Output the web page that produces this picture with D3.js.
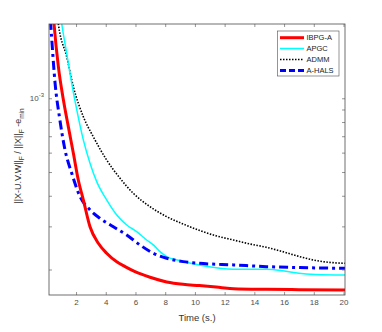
<!DOCTYPE html>
<html><head><meta charset="utf-8">
<script src="https://cdn.jsdelivr.net/npm/d3@7"></script>
<style>body{margin:0;background:#fff}svg{display:block}text{font-family:"Liberation Sans",Arial,sans-serif}</style>
</head><body><svg id="c" width="382" height="332"></svg>
<script>
const seriesNames = ["IBPG-A","APGC","ADMM","A-HALS"];
const ibpgT = [0.35,0.52,0.81,1.15,1.48,1.82,2.15,2.49,2.94,3.5,4.06,4.74,5.3,5.97,6.98,8.1,9.2,10.3,11.7,12.6,14.8,17.0,20.1];
const ibpgV = [2.8e-3,2.01e-3,1.346e-3,0.984e-3,0.766e-3,0.596e-3,0.464e-3,0.385e-3,0.299e-3,0.256e-3,0.233e-3,0.215e-3,0.2055e-3,0.196e-3,0.186e-3,0.178e-3,0.174e-3,0.172e-3,0.169e-3,0.167e-3,0.166e-3,0.1655e-3,0.165e-3];
const apgcT = [0.8,1.04,1.37,1.71,2.05,2.49,2.94,3.39,4.06,4.74,5.41,6.08,6.75,7.2,7.65,8.1,9.0,10.3,12.6,14.8,15.9,17.0,18.1,20.1];
const apgcV = [2.6e-3,2.01e-3,1.526e-3,1.151e-3,0.896e-3,0.676e-3,0.543e-3,0.457e-3,0.385e-3,0.334e-3,0.304e-3,0.2855e-3,0.264e-3,0.252e-3,0.2365e-3,0.2257e-3,0.2173e-3,0.2088e-3,0.2005e-3,0.2005e-3,0.1978e-3,0.193e-3,0.191e-3,0.190e-3];
const admmT = [0.6,0.81,1.37,1.82,2.49,3.16,4.06,4.96,5.85,6.98,8.1,9.2,10.33,11.46,12.58,13.7,14.8,15.9,17.06,18.2,19.3,20.1];
const admmV = [2.6e-3,2.01e-3,1.479e-3,1.115e-3,0.841e-3,0.697e-3,0.560e-3,0.4716e-3,0.4095e-3,0.361e-3,0.3286e-3,0.3069e-3,0.2884e-3,0.2742e-3,0.264e-3,0.2543e-3,0.2465e-3,0.2366e-3,0.2257e-3,0.2173e-3,0.2133e-3,0.212e-3];
const ahalsT = [0.25,0.30,0.37,0.59,0.88,1.26,1.71,2.27,2.94,3.61,4.51,5.41,6.3,7.2,8.1,9.2,10.3,12.6,14.8,17.06,20.1];
const ahalsV = [2.5e-3,2.01e-3,1.73e-3,1.151e-3,0.841e-3,0.615e-3,0.494e-3,0.3967e-3,0.350e-3,0.3236e-3,0.299e-3,0.2767e-3,0.252e-3,0.233e-3,0.2223e-3,0.2154e-3,0.212e-3,0.2088e-3,0.2055e-3,0.2036e-3,0.2023e-3];
const xTicks = [2,4,6,8,10,12,14,16,18,20];
const yTicks = [2e-4,3e-4,4e-4,5e-4,6e-4,7e-4,8e-4,9e-4,1e-3];

const svg = d3.select("#c");
const L=49, R=345, T=24, B=295;
const x = d3.scaleLinear().domain([0.18,20.1]).range([L,R]);
const y = d3.scaleLog().domain([1.574e-4,2.01e-3]).range([B,T]);
const axCol = "#4d4d4d";

svg.append("defs").append("clipPath").attr("id","clip").append("rect")
  .attr("x",L).attr("y",T).attr("width",R-L).attr("height",B-T);

const series = [
  {t:ibpgT, v:ibpgV, color:"#ff0000", w:3, dash:null},
  {t:apgcT, v:apgcV, color:"#00ffff", w:1.5, dash:null},
  {t:admmT, v:admmV, color:"#000000", w:1.6, dash:"1.5,1.5"},
  {t:ahalsT, v:ahalsV, color:"#0000ff", w:3, dash:"9,4,3,4"}
];
const line = d3.line().x(d=>x(d[0])).y(d=>y(d[1])).curve(d3.curveMonotoneX);
const g = svg.append("g").attr("clip-path","url(#clip)");
// draw order: ADMM, APGC, A-HALS, IBPG-A (red over)
[2,1,3,0].forEach(i=>{
  const s = series[i];
  g.append("path").datum(s.t.map((t,j)=>[t,s.v[j]]))
    .attr("d",line).attr("fill","none").attr("stroke",s.color)
    .attr("stroke-width",s.w).attr("stroke-dasharray",s.dash)
    .attr("stroke-linejoin","round");
});

function styleAxis(sel){
  sel.select(".domain").remove();
  sel.selectAll("line").attr("stroke",axCol).attr("stroke-width",0.6);
  sel.selectAll("text").attr("fill",axCol).attr("font-size","8px").attr("font-family","Liberation Sans, Arial, sans-serif");
}
svg.append("g").attr("transform",`translate(0,${B})`)
  .call(d3.axisBottom(x).tickValues(xTicks).tickSizeInner(-3).tickSizeOuter(0).tickPadding(4).tickFormat(d3.format("d")))
  .call(styleAxis);
svg.append("g").attr("transform",`translate(0,${T})`)
  .call(d3.axisTop(x).tickValues(xTicks).tickSizeInner(-3).tickSizeOuter(0).tickFormat(""))
  .call(styleAxis);
svg.append("g").attr("transform",`translate(${L},0)`)
  .call(d3.axisLeft(y).tickValues(yTicks).tickSizeInner(-3).tickSizeOuter(0).tickFormat(""))
  .call(styleAxis);
svg.append("g").attr("transform",`translate(${R},0)`)
  .call(d3.axisRight(y).tickValues(yTicks).tickSizeInner(-3).tickSizeOuter(0).tickFormat(""))
  .call(styleAxis);

svg.append("rect").attr("x",L).attr("y",T).attr("width",R-L).attr("height",B-T)
  .attr("fill","none").attr("stroke",axCol).attr("stroke-width",0.8);

// 10^-3 label
const yl = svg.append("text").attr("x",L-5).attr("y",y(1e-3)+3).attr("text-anchor","end")
  .attr("fill",axCol).attr("font-size","8px");
yl.append("tspan").text("10");
yl.append("tspan").attr("dy",-4).attr("font-size","6px").text("-3");

// x label
svg.append("text").attr("x",(L+R)/2).attr("y",321).attr("text-anchor","middle")
  .attr("fill","#333").attr("font-size","9.5px").text("Time (s.)");

// y label
const ylab = svg.append("text").attr("transform",`translate(21,156) rotate(-90)`)
  .attr("text-anchor","middle").attr("fill","#333").attr("font-size","9px");
ylab.append("tspan").text("||X-U.V.W||");
ylab.append("tspan").attr("dy",2.5).attr("font-size","6.5px").text("F");
ylab.append("tspan").attr("dy",-2.5).text(" / ||X||");
ylab.append("tspan").attr("dy",2.5).attr("font-size","6.5px").text("F");
ylab.append("tspan").attr("dy",-2.5).text(" -e");
ylab.append("tspan").attr("dy",2.5).attr("font-size","6.5px").text("min");

// legend
const lg = svg.append("g");
lg.append("rect").attr("x",277.5).attr("y",31).attr("width",61.5).attr("height",45)
  .attr("fill","#fff").attr("stroke",axCol).attr("stroke-width",0.6);
const ly = [37.7,48.5,59.5,70.5];
seriesNames.forEach((n,i)=>{
  const s = series[i];
  lg.append("line").attr("x1",280).attr("x2",304).attr("y1",ly[i]).attr("y2",ly[i])
    .attr("stroke",s.color).attr("stroke-width",s.w).attr("stroke-dasharray",i===3?"6,3":s.dash);
  lg.append("text").attr("x",306.5).attr("y",ly[i]+2.7).attr("fill","#222")
    .attr("font-size","7.5px").text(n);
});
</script></body></html>
